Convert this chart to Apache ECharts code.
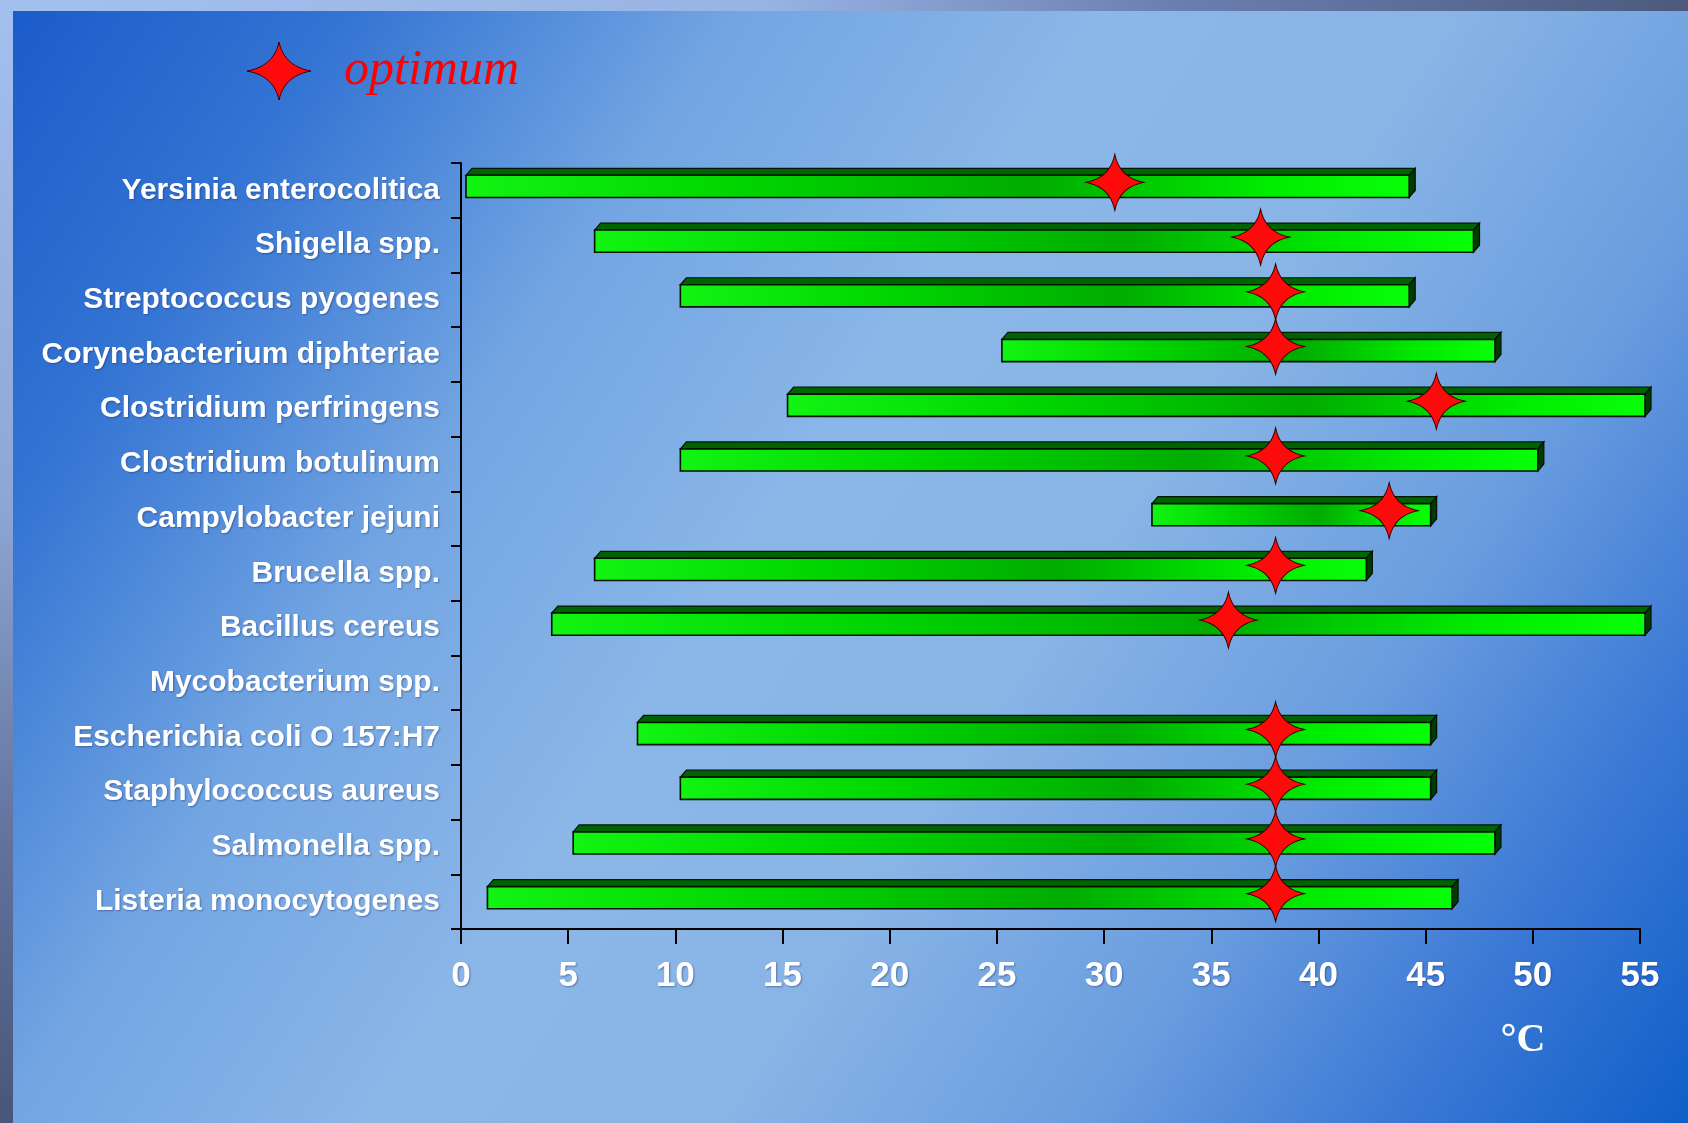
<!DOCTYPE html>
<html>
<head>
<meta charset="utf-8">
<title>Growth temperature ranges of food-borne bacteria</title>
<script src="https://cdn.jsdelivr.net/npm/echarts@6/dist/echarts.min.js"></script>
<style>
  html, body { margin: 0; padding: 0; background: #1a5ccc; }
  #chart { width: 1688px; height: 1123px; }
</style>
</head>
<body>
<div id="chart"></div>
<script>
// Organisms, top to bottom
const categories = [
  'Yersinia enterocolitica',
  'Shigella spp.',
  'Streptococcus pyogenes',
  'Corynebacterium diphteriae',
  'Clostridium perfringens',
  'Clostridium botulinum',
  'Campylobacter jejuni',
  'Brucella spp.',
  'Bacillus cereus',
  'Mycobacterium spp.',
  'Escherichia coli O 157:H7',
  'Staphylococcus aureus',
  'Salmonella spp.',
  'Listeria monocytogenes'
];
// Growth range (°C); null = no range shown
const minTemp = [0, 6, 10, 25, 15, 10, 32, 6, 4, null, 8, 10, 5, 1];
const maxTemp = [44, 47, 44, 48, 55, 50, 45, 42, 55, null, 45, 45, 48, 46];
// Optimum growth temperature (°C)
const optimum = [30.5, 37.3, 38, 38, 45.5, 38, 43.3, 38, 35.8, null, 38, 38, 38, 38];
// Temperature axis ticks
const tickLabels = ['0', '5', '10', '15', '20', '25', '30', '35', '40', '45', '50', '55'];
const legendText = 'optimum';
const unitText = '°C';

// four-pointed star in a 100x100 box: tips joined by slightly concave sides
function starOutline() {
  const tips = [[50, 0], [100, 50], [50, 100], [0, 50]];
  const inner = [[61, 39], [61, 61], [39, 61], [39, 39]];
  const pts = [];
  for (let s = 0; s < 4; s++) {
    const a = tips[s], b = tips[(s + 1) % 4], c = inner[s];
    // pull each side towards the centre a little past the inner corner
    const ctrl = [c[0] + (50 - c[0]) * 0.25, c[1] + (50 - c[1]) * 0.25];
    for (let k = 0; k < 12; k++) {
      const t = k / 12, u = 1 - t;
      pts.push([
        u * u * a[0] + 2 * u * t * ctrl[0] + t * t * b[0],
        u * u * a[1] + 2 * u * t * ctrl[1] + t * t * b[1]
      ]);
    }
  }
  return pts;
}
const STAR_POINTS = starOutline();
const STAR_PATH = 'M' + STAR_POINTS.map(p => p[0].toFixed(2) + ',' + p[1].toFixed(2)).join(' L') + ' Z';

// same star scaled to a box centred on (cx, cy), for the legend marker
function starPoints(cx, cy, w, h) {
  return STAR_POINTS.map(p => [cx + (p[0] - 50) / 100 * w, cy + (p[1] - 50) / 100 * h]);
}

// detect the condensed face, fall back to regular width at a smaller size
function fontAvailable(name) {
  const c = document.createElement('canvas').getContext('2d');
  const s = 'Listeria monocytogenes';
  c.font = 'bold 36px monospace';
  const w0 = c.measureText(s).width;
  c.font = 'bold 36px "' + name + '", monospace';
  return c.measureText(s).width !== w0;
}
const hasNarrow = fontAvailable('Liberation Sans Narrow');
const labelFont = hasNarrow ? 'Liberation Sans Narrow' : 'Liberation Sans';
const labelSize = hasNarrow ? 36 : 30;

const barRows = [];
categories.forEach((c, i) => {
  if (minTemp[i] != null && maxTemp[i] != null) barRows.push([i, minTemp[i], maxTemp[i]]);
});
const starRows = [];
categories.forEach((c, i) => {
  if (optimum[i] != null) starRows.push([optimum[i], i]);
});

// 3D-look bar: front face, top face and right side face
const SHIFT = 5, DX = 6, DY = 7;
function renderBar(params, api) {
  const cat = api.value(0);
  const a = api.coord([api.value(1), cat]);
  const b = api.coord([api.value(2), cat]);
  const band = api.size([0, 1])[1];
  const yBot = a[1] + band * 0.13;
  const yTop = a[1] - band * 0.275;
  const x0 = a[0] + SHIFT, x1 = b[0] + SHIFT;
  return {
    type: 'group',
    children: [
      {
        type: 'polygon',
        shape: { points: [[x0, yTop], [x0 + DX, yTop - DY], [x1 + DX, yTop - DY], [x1, yTop]] },
        style: { fill: '#006200', stroke: '#001800', lineWidth: 1.2 }
      },
      {
        type: 'polygon',
        shape: { points: [[x1, yTop], [x1 + DX, yTop - DY], [x1 + DX, yBot - DY], [x1, yBot]] },
        style: { fill: '#003c00', stroke: '#001000', lineWidth: 1.2 }
      },
      {
        type: 'rect',
        shape: { x: x0, y: yTop, width: x1 - x0, height: yBot - yTop },
        style: {
          fill: new echarts.graphic.LinearGradient(0, 0, 1, 0, [
            { offset: 0, color: '#12f412' },
            { offset: 0.3, color: '#00d400' },
            { offset: 0.6, color: '#00ac00' },
            { offset: 0.85, color: '#00ec00' },
            { offset: 1, color: '#08ff08' }
          ]),
          stroke: '#001400',
          lineWidth: 1.6
        }
      }
    ]
  };
}

const chart = echarts.init(document.getElementById('chart'), null, { renderer: 'canvas' });

const textShadow = {
  textShadowColor: 'rgba(20,40,90,0.45)',
  textShadowBlur: 2,
  textShadowOffsetX: 1,
  textShadowOffsetY: 1
};

chart.setOption({
  animation: false,
  grid: { left: 461, right: 48, top: 163, bottom: 194, containLabel: false },
  graphic: {
    elements: [
      {
        type: 'rect', z: -100, silent: true,
        shape: { x: 0, y: 0, width: 1688, height: 1123 },
        style: { fill: '#8ab6e8' }
      },
      {
        type: 'rect', z: -99, silent: true,
        shape: { x: 13, y: 11, width: 1675, height: 1112 },
        style: {
          fill: new echarts.graphic.LinearGradient(0, 0, 1, 1, [
            { offset: 0, color: '#1b5ccb' },
            { offset: 0.14, color: '#3474d3' },
            { offset: 0.3, color: '#72a5e2' },
            { offset: 0.45, color: '#8ab6e8' },
            { offset: 0.6, color: '#88b4e6' },
            { offset: 0.75, color: '#6a9ddf' },
            { offset: 0.88, color: '#3a78d5' },
            { offset: 1, color: '#0f5fc8' }
          ])
        }
      },
      {
        type: 'rect', z: -98, silent: true,
        shape: { x: 0, y: 0, width: 1688, height: 11 },
        style: {
          fill: new echarts.graphic.LinearGradient(0, 0, 1, 0, [
            { offset: 0, color: '#a4c0ee' },
            { offset: 0.45, color: '#98b4e4' },
            { offset: 0.7, color: '#6a7eb0' },
            { offset: 1, color: '#4c5a7e' }
          ])
        }
      },
      {
        type: 'rect', z: -98, silent: true,
        shape: { x: 0, y: 0, width: 13, height: 1123 },
        style: {
          fill: new echarts.graphic.LinearGradient(0, 0, 0, 1, [
            { offset: 0, color: '#a4c0ee' },
            { offset: 0.45, color: '#8ea6d4' },
            { offset: 0.75, color: '#62729c' },
            { offset: 1, color: '#485678' }
          ])
        }
      },
      {
        type: 'polygon', z: 10,
        shape: { points: starPoints(279, 71, 64, 58) },
        style: { fill: '#ff0a0a', stroke: '#3a0000', lineWidth: 1 }
      },
      {
        type: 'text', z: 10,
        x: 344, y: 71,
        style: {
          text: legendText,
          fill: '#ff0000',
          font: 'italic 50px "Liberation Serif", "DejaVu Serif", serif',
          textVerticalAlign: 'middle'
        }
      },
      {
        type: 'text', z: 10,
        x: 1523, y: 1041,
        style: {
          text: unitText,
          fill: '#ffffff',
          font: 'bold 40px "Liberation Serif", "DejaVu Serif", serif',
          textAlign: 'center',
          textVerticalAlign: 'middle'
        }
      }
    ]
  },
  xAxis: {
    type: 'value',
    min: 0,
    max: 55,
    interval: 5,
    axisLine: { show: true, lineStyle: { color: '#000', width: 2 } },
    axisTick: { show: true, length: 15, lineStyle: { color: '#000', width: 2 } },
    splitLine: { show: false },
    axisLabel: {
      margin: 30,
      color: '#ffffff',
      fontWeight: 'bold',
      fontSize: 35,
      fontFamily: 'Liberation Sans',
      formatter: (v) => tickLabels[Math.round(v / 5)],
      ...textShadow
    }
  },
  yAxis: {
    type: 'category',
    inverse: true,
    data: categories,
    axisLine: { show: true, lineStyle: { color: '#000', width: 2 } },
    axisTick: { show: true, length: 10, lineStyle: { color: '#000', width: 2 } },
    splitLine: { show: false },
    axisLabel: {
      margin: 21,
      color: '#ffffff',
      fontWeight: 'bold',
      fontSize: labelSize,
      fontFamily: labelFont,
      ...textShadow
    }
  },
  series: [
    {
      type: 'custom',
      name: 'range',
      z: 2,
      renderItem: renderBar,
      encode: { x: [1, 2], y: 0 },
      data: barRows
    },
    {
      type: 'scatter',
      name: legendText,
      z: 3,
      symbol: 'path://' + STAR_PATH,
      symbolSize: [58, 56],
      symbolOffset: [0, -8],
      itemStyle: { color: '#ff0a0a', borderColor: '#3a0000', borderWidth: 1, opacity: 1 },
      data: starRows
    }
  ]
});
</script>
</body>
</html>
